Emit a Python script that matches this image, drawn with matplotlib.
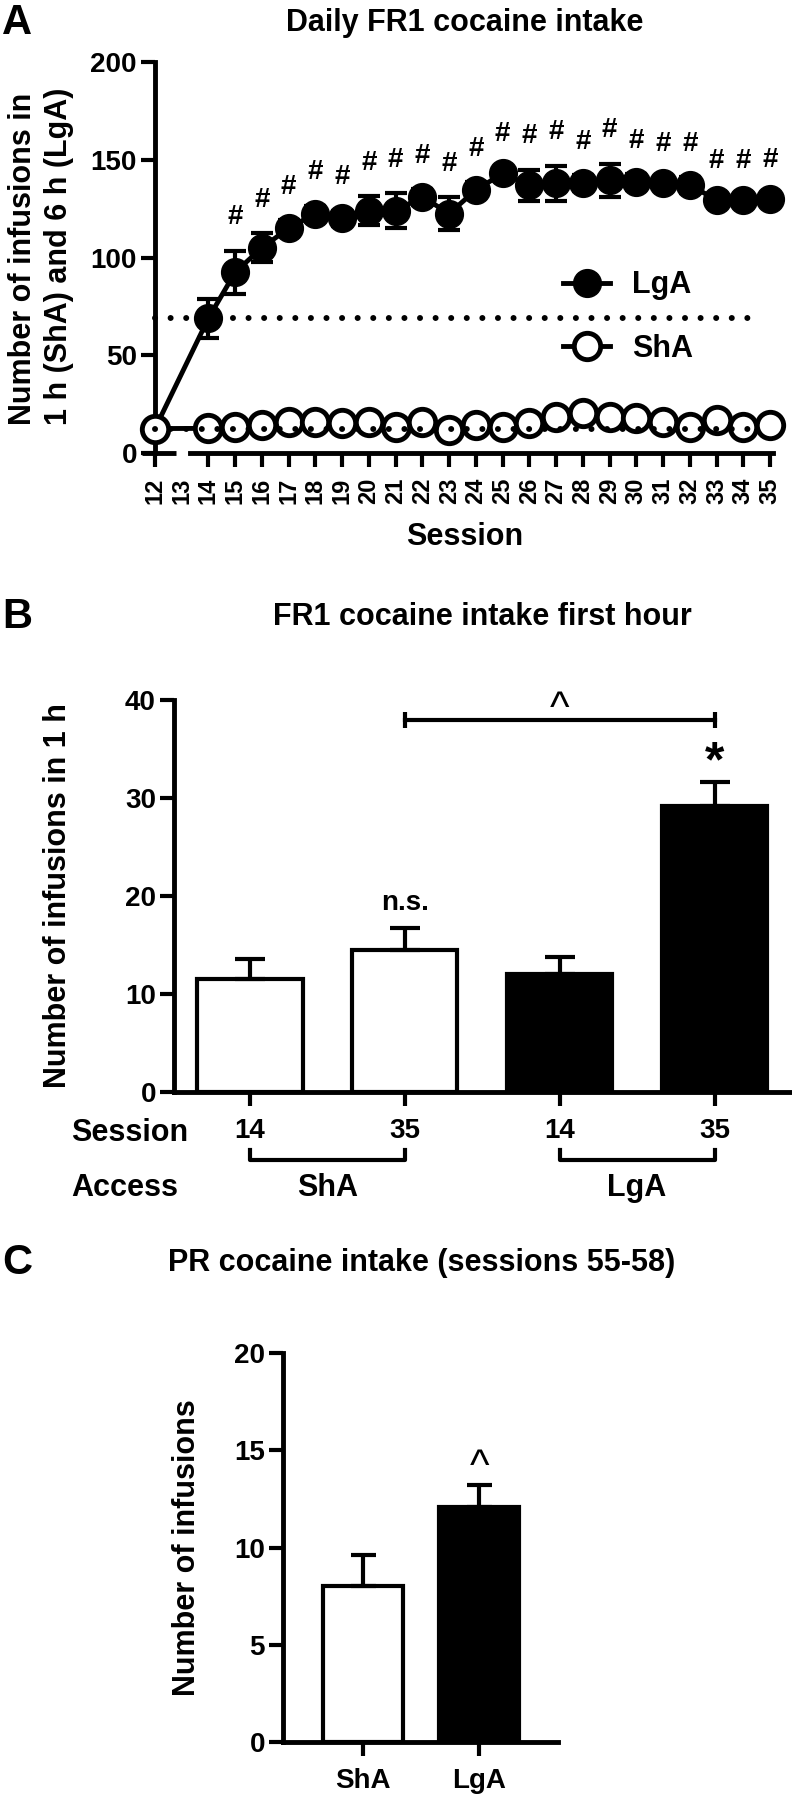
"""Cocaine intake figure: A daily FR1 intake, B first hour intake, C PR intake."""
import matplotlib
matplotlib.use("Agg")
import matplotlib.pyplot as plt
from matplotlib.lines import Line2D

plt.rcParams["font.family"] = ["Liberation Sans", "DejaVu Sans"]
plt.rcParams["font.weight"] = "bold"

# ---- data -------------------------------------------------------------
# panel A: sessions (13 has no data, axis is broken there)
sessions = [12, 14, 15, 16, 17, 18, 19, 20, 21, 22, 23, 24,
            25, 26, 27, 28, 29, 30, 31, 32, 33, 34, 35]
lga_mean = [12.5, 69, 92.5, 105, 115, 122.5, 120, 124, 124, 131, 122.5, 134.5,
            143, 137, 138, 138, 139.5, 138.5, 138, 137, 129.5, 129.5, 130]
lga_sem = [1, 10, 11, 7.5, 4, 4, 4, 7.5, 9, 4, 8.5, 4,
           3, 8, 9, 4, 8.5, 4, 3, 4, 3, 3, 3]
sha_mean = [12.5, 12.6, 13.5, 14.3, 16, 16, 15.2, 16, 13.5, 16, 12, 14.3,
            13.5, 15.2, 18.6, 20.3, 18.6, 17.7, 16, 13.5, 16.9, 13.5, 14.3]
sha_sem = [2, 2, 2, 2, 2, 2, 2, 2, 2, 2, 2, 2,
           2, 2, 2, 2, 2, 2, 2, 2, 2, 2, 2]
hash_sessions = [15, 16, 17, 18, 19, 20, 21, 22, 23, 24, 25,
                 26, 27, 28, 29, 30, 31, 32, 33, 34, 35]
lga_ref = 69     # dotted reference lines
sha_ref = 12.5
ref_end = 34.55

# panel B: first hour intake
b_session = ["14", "35", "14", "35"]
b_access = ["ShA", "LgA"]
b_mean = [11.5, 14.5, 12.0, 29.2]
b_sem = [2.1, 2.2, 1.8, 2.4]
b_fill = ["white", "white", "black", "black"]

# panel C: PR intake
c_groups = ["ShA", "LgA"]
c_mean = [8.0, 12.1]
c_sem = [1.6, 1.1]
c_fill = ["white", "black"]

# ---- layout helpers ---------------------------------------------------
W, H = 792, 1800
fig = plt.figure(figsize=(W / 100, H / 100), dpi=100)


def fx(px):
    return px / W


def fy(py):
    return 1 - py / H


def px_axes(left, top, right, bottom):
    return fig.add_axes([fx(left), fy(bottom), (right - left) / W, (bottom - top) / H])


def style(ax):
    for side in ("top", "right"):
        ax.spines[side].set_visible(False)
    for side in ("left", "bottom"):
        ax.spines[side].set_linewidth(3.5)
    ax.tick_params(width=3, length=10, labelsize=20, pad=3)


# ---- panel A ----------------------------------------------------------
axA = px_axes(136.3, 62, 780.7, 453)
style(axA)
axA.set_xlim(11.3, 35.4)
axA.set_ylim(0, 200)
axA.spines["left"].set_position(("data", 12))
axA.spines["bottom"].set_bounds(13.3, 35.1)
axA.plot([11.5, 12.8], [0, 0], color="k", lw=3.5, clip_on=False, solid_capstyle="butt")

ticksA = list(range(12, 36))
axA.set_xticks(ticksA, [str(t) for t in ticksA])
axA.get_xticklines()[2].set_visible(False)  # no tick at 13 (axis break)
axA.tick_params(axis="x", labelsize=17, labelrotation=90, pad=8)
axA.set_yticks([0, 50, 100, 150, 200])

dot = dict(color="k", lw=4.3, linestyle=(0, (0.01, 2.6)), dash_capstyle="round")
axA.plot([sessions[0], ref_end], [lga_ref, lga_ref], zorder=6, **dot)
axA.plot([sessions[0], ref_end], [sha_ref, sha_ref], zorder=6, **dot)

axA.errorbar(sessions, lga_mean, yerr=lga_sem, fmt="-", color="k", lw=3.5,
             elinewidth=3, capsize=8, capthick=3, zorder=3, clip_on=False)
axA.plot(sessions, lga_mean, "o", ms=20, mfc="k", mec="k", zorder=4, clip_on=False)
axA.errorbar(sessions, sha_mean, yerr=sha_sem, fmt="-", color="k", lw=3.5,
             elinewidth=3, capsize=8, capthick=3, zorder=4.5, clip_on=False)
axA.plot(sessions, sha_mean, "o", ms=19, mfc="white", mec="k", mew=3.5,
         zorder=5, clip_on=False)

for s, m, e in zip(sessions, lga_mean, lga_sem):
    if s in hash_sessions:
        axA.text(s, m + e + 17, "#", ha="center", va="center", fontsize=20)

handles = [Line2D([], [], color="k", lw=3.5, marker="o", ms=20, mfc="k", mec="k"),
           Line2D([], [], color="k", lw=3.5, marker="o", ms=19, mfc="white",
                  mec="k", mew=3.5)]
axA.legend(handles, ["LgA", "ShA"], loc="center left",
           bbox_to_anchor=(fx(563), fy(317)), bbox_transform=fig.transFigure,
           frameon=False, fontsize=22, handlelength=1.55, handletextpad=0.7,
           labelspacing=1.1, borderpad=0, borderaxespad=0)

fig.text(fx(41), fy(256), "Number of infusions in\n1 h (ShA) and 6 h (LgA)",
         rotation=90, ha="center", va="center", fontsize=22,
         multialignment="left", linespacing=1.25)
fig.text(fx(465), fy(537), "Session", ha="center", va="center", fontsize=22)
fig.text(fx(465), fy(23), "Daily FR1 cocaine intake", ha="center", va="center",
         fontsize=22)
fig.text(fx(2), fy(23), "A", ha="left", va="center", fontsize=30)

# ---- panel B ----------------------------------------------------------
axB = px_axes(174, 700, 792, 1092)
style(axB)
xb = list(range(len(b_mean)))
axB.set_xlim(-0.49, 3.5)
axB.set_ylim(0, 40)
axB.bar(xb, b_mean, width=0.68, color=b_fill, edgecolor="k", linewidth=3, zorder=2)
axB.errorbar(xb, b_mean, yerr=[[0] * len(b_sem), b_sem], fmt="none", ecolor="k",
             elinewidth=3, capsize=11, capthick=3, zorder=3)
axB.set_xticks(xb, b_session)
axB.set_yticks([0, 10, 20, 30, 40])
axB.tick_params(axis="x", pad=9)

# LgA 35 vs ShA 35 bracket
axB.plot([1, 3], [38, 38], color="k", lw=3, clip_on=False)
axB.plot([1, 3], [38, 38], "|", color="k", ms=12, mew=3, clip_on=False)
axB.text(2, 37.9, "^", ha="center", va="baseline", fontsize=30, fontweight="normal")
axB.text(3, b_mean[3] + b_sem[3] + 0.6, "*", ha="center", va="baseline", fontsize=36)
axB.text(1, b_mean[1] + b_sem[1] + 2.6, "n.s.", ha="center", va="center", fontsize=20)

# access brackets under the session labels
for k, name in enumerate(b_access):
    x0, x1 = 2 * k, 2 * k + 1
    axB.plot([x0, x0, x1, x1], [-5.9, -6.9, -6.9, -5.9], color="k", lw=3,
             clip_on=False)
    axB.text((x0 + x1) / 2, -9.8, name, ha="center", va="center", fontsize=22)

fig.text(fx(71), fy(1133), "Session", ha="left", va="center", fontsize=22)
fig.text(fx(71), fy(1188), "Access", ha="left", va="center", fontsize=22)
fig.text(fx(58), fy(896), "Number of infusions in 1 h", rotation=90,
         ha="center", va="center", fontsize=22)
fig.text(fx(482), fy(617), "FR1 cocaine intake first hour", ha="center",
         va="center", fontsize=22)
fig.text(fx(2), fy(617), "B", ha="left", va="center", fontsize=30)

# ---- panel C ----------------------------------------------------------
axC = px_axes(283, 1353, 558, 1742)
style(axC)
xc = list(range(len(c_mean)))
axC.set_xlim(-0.69, 1.68)
axC.set_ylim(0, 20)
axC.bar(xc, c_mean, width=0.69, color=c_fill, edgecolor="k", linewidth=3, zorder=2)
axC.errorbar(xc, c_mean, yerr=[[0] * len(c_sem), c_sem], fmt="none", ecolor="k",
             elinewidth=3, capsize=9, capthick=3, zorder=3)
axC.set_xticks(xc, c_groups)
axC.set_yticks([0, 5, 10, 15, 20])
axC.tick_params(axis="x", pad=9)
axC.text(1, c_mean[1] + c_sem[1] + 0.3, "^", ha="center", va="baseline", fontsize=30,
         fontweight="normal")

fig.text(fx(187), fy(1548), "Number of infusions", rotation=90, ha="center",
         va="center", fontsize=22)
fig.text(fx(422), fy(1263), "PR cocaine intake (sessions 55-58)", ha="center",
         va="center", fontsize=22)
fig.text(fx(2), fy(1263), "C", ha="left", va="center", fontsize=30)

fig.savefig("out.png", dpi=100)
